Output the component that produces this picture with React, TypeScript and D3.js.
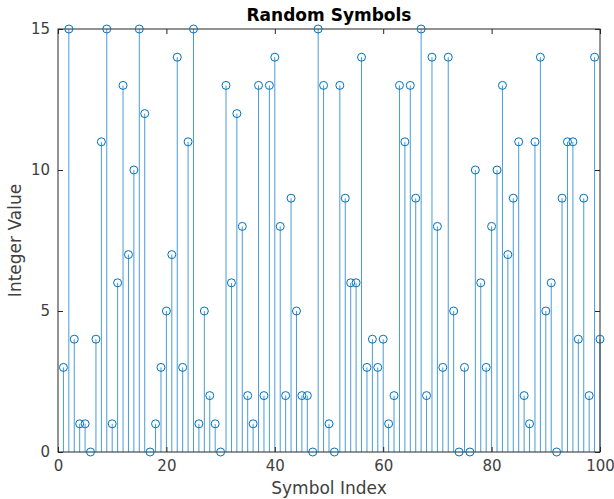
import React, { useEffect, useRef } from 'react';
import * as d3 from 'd3';

// symbol values, index 1..100
const symbols = [
  3, 15, 4, 1, 1, 0, 4, 11, 15, 1,
  6, 13, 7, 10, 15, 12, 0, 1, 3, 5,
  7, 14, 3, 11, 15, 1, 5, 2, 1, 0,
  13, 6, 12, 8, 2, 1, 13, 2, 13, 14,
  8, 2, 9, 5, 2, 2, 0, 15, 13, 1,
  0, 13, 9, 6, 6, 14, 3, 4, 3, 4,
  1, 2, 13, 11, 13, 9, 15, 2, 14, 8,
  3, 14, 5, 0, 3, 0, 10, 6, 3, 8,
  10, 13, 7, 9, 11, 2, 1, 11, 14, 5,
  6, 0, 9, 11, 11, 4, 9, 2, 14, 4,
];
const xTicks = [0, 20, 40, 60, 80, 100];
const yTicks = [0, 5, 10, 15];

const W = 614, H = 499;
const margin = { top: 29, right: 14, bottom: 47, left: 58 };

export default function App() {
  const ref = useRef<SVGSVGElement>(null);

  useEffect(() => {
    const svg = d3.select(ref.current);
    svg.selectAll('*').remove();

    const w = W - margin.left - margin.right;
    const h = H - margin.top - margin.bottom;
    const g = svg.append('g').attr('transform', `translate(${margin.left},${margin.top})`);

    const x = d3.scaleLinear().domain([0, 100]).range([0, w]);
    const y = d3.scaleLinear().domain([0, 15]).range([h, 0]);

    const font = 'DejaVu Sans, sans-serif';
    const axisColor = '#262626';

    // stems
    g.selectAll('.stem')
      .data(symbols)
      .join('line')
      .attr('class', 'stem')
      .attr('x1', (d, i) => x(i + 1))
      .attr('x2', (d, i) => x(i + 1))
      .attr('y1', y(0))
      .attr('y2', d => y(d))
      .attr('stroke', '#4a9bd6')
      .attr('stroke-width', 1);

    // box
    g.append('rect')
      .attr('width', w).attr('height', h)
      .attr('fill', 'none')
      .attr('stroke', axisColor)
      .attr('stroke-width', 1);

    const xAxis = g.append('g')
      .attr('transform', `translate(0,${h})`)
      .call(d3.axisBottom(x).tickValues(xTicks).tickSize(-5).tickPadding(8));
    const xTop = g.append('g')
      .call(d3.axisTop(x).tickValues(xTicks).tickSize(-5).tickFormat(() => ''));
    const yAxis = g.append('g')
      .call(d3.axisLeft(y).tickValues(yTicks).tickSize(-5).tickPadding(8));
    const yRight = g.append('g')
      .attr('transform', `translate(${w},0)`)
      .call(d3.axisRight(y).tickValues(yTicks).tickSize(-5).tickFormat(() => ''));

    [xAxis, xTop, yAxis, yRight].forEach(a => {
      a.select('.domain').remove();
      a.selectAll('line').attr('stroke', axisColor);
      a.selectAll('text')
        .attr('fill', '#404040')
        .style('font-family', font)
        .style('font-size', '15px');
    });

    // markers
    g.selectAll('.mark')
      .data(symbols)
      .join('circle')
      .attr('class', 'mark')
      .attr('cx', (d, i) => x(i + 1))
      .attr('cy', d => y(d))
      .attr('r', 4)
      .attr('fill', 'none')
      .attr('stroke', '#0072BD')
      .attr('stroke-width', 1);

    svg.append('text')
      .attr('x', margin.left + w / 2)
      .attr('y', 21)
      .attr('text-anchor', 'middle')
      .style('font-family', font)
      .style('font-size', '17px')
      .style('font-weight', 'bold')
      .attr('fill', '#000')
      .text('Random Symbols');

    svg.append('text')
      .attr('x', margin.left + w / 2)
      .attr('y', 494)
      .attr('text-anchor', 'middle')
      .style('font-family', font)
      .style('font-size', '17px')
      .attr('fill', '#404040')
      .text('Symbol Index');

    svg.append('text')
      .attr('transform', `translate(21,${margin.top + h / 2}) rotate(-90)`)
      .attr('text-anchor', 'middle')
      .style('font-family', font)
      .style('font-size', '17px')
      .attr('fill', '#404040')
      .text('Integer Value');
  }, []);

  return (
    <svg ref={ref} width={W} height={H}
      style={{ position: 'absolute', left: 0, top: 0, background: '#fff' }} />
  );
}
